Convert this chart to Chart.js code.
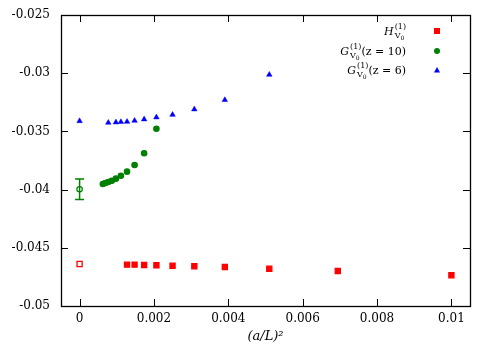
<!DOCTYPE html>
<html>
<head>
<meta charset="utf-8">
<script src="https://cdn.jsdelivr.net/npm/chart.js@4/dist/chart.umd.min.js"></script>
<style>
  body { margin: 0; background: #fff; }
  canvas { display: block; }
</style>
</head>
<body>
<canvas id="grafico" width="492" height="348"></canvas>
<script>
// datos
const xH = [0, 0.001276, 0.001479, 0.001736, 0.002066, 0.0025, 0.003086, 0.003906, 0.005102, 0.006944, 0.01];
const yH = [-0.04639, -0.04645, -0.04645, -0.04648, -0.0465, -0.04654, -0.04659, -0.04665, -0.0468, -0.04699, -0.04736];

const xG10 = [0, 0.000625, 0.000693, 0.000772, 0.000865, 0.000977, 0.001111, 0.001276, 0.001479, 0.001736, 0.002066];
const yG10 = [-0.03997, -0.03952, -0.03943, -0.03935, -0.03924, -0.03906, -0.03881, -0.03846, -0.03789, -0.03688, -0.03477];
const errG10 = 0.00089; // barra de error del punto extrapolado

const xG6 = [0, 0.000772, 0.000977, 0.001111, 0.001276, 0.001479, 0.001736, 0.002066, 0.0025, 0.003086, 0.003906, 0.005102];
const yG6 = [-0.03411, -0.03425, -0.03422, -0.03419, -0.03417, -0.03408, -0.03396, -0.03379, -0.03357, -0.0331, -0.0323, -0.03013];

const xTicks = [0, 0.002, 0.004, 0.006, 0.008, 0.01];
const yTicks = [-0.05, -0.045, -0.04, -0.035, -0.03, -0.025];

const FUENTE = '"DejaVu Serif", serif';

function puntos(xs, ys) {
    return xs.map((x, i) => ({ x: x, y: ys[i] }));
}

// el primer punto (a/L)^2 = 0 va hueco en H y G10
function rellenos(n, color) {
    const arr = new Array(n).fill(color);
    arr[0] = '#ffffff';
    return arr;
}

// texto con super/subindices, alineado a la derecha
function dibujarEtiqueta(ctx, letra, resto, xDer, base) {
    const fMain = '11px ' + FUENTE;
    const fMainIt = 'italic 11px ' + FUENTE;
    const fSup = '8px ' + FUENTE;
    const fSub0 = '6px ' + FUENTE;

    ctx.font = fMainIt; const wL = ctx.measureText(letra).width;
    ctx.font = fSup; const wSup = ctx.measureText('(1)').width; const wV = ctx.measureText('V').width;
    ctx.font = fSub0; const w0 = ctx.measureText('0').width;
    ctx.font = fMain; const wR = ctx.measureText(resto).width;
    const wScript = Math.max(wSup, wV + w0);
    let x = xDer - (wL + 1 + wScript + wR);

    ctx.fillStyle = '#000';
    ctx.textAlign = 'left';
    ctx.textBaseline = 'alphabetic';
    ctx.font = fMainIt; ctx.fillText(letra, x, base);
    x += wL + 1;
    ctx.font = fSup; ctx.fillText('(1)', x, base - 6);
    ctx.fillText('V', x, base + 3);
    ctx.font = fSub0; ctx.fillText('0', x + wV, base + 5);
    x += wScript;
    if (resto) { ctx.font = fMain; ctx.fillText(resto, x, base); }
}

const marcoPlugin = {
    id: 'marco',
    afterDatasetsDraw(chart) {
        const { ctx, chartArea: a, scales: { x, y } } = chart;
        ctx.save();

        // barra de error
        const px = x.getPixelForValue(xG10[0]);
        const pTop = y.getPixelForValue(yG10[0] + errG10);
        const pBot = y.getPixelForValue(yG10[0] - errG10);
        ctx.strokeStyle = '#008000';
        ctx.lineWidth = 1.5;
        ctx.beginPath();
        ctx.moveTo(px, pTop); ctx.lineTo(px, pBot);
        ctx.moveTo(px - 4.5, pTop); ctx.lineTo(px + 4.5, pTop);
        ctx.moveTo(px - 4.5, pBot); ctx.lineTo(px + 4.5, pBot);
        ctx.stroke();

        // marco y marcas hacia dentro
        ctx.strokeStyle = '#000';
        ctx.lineWidth = 1;
        ctx.beginPath();
        xTicks.forEach(v => {
            const p = Math.round(x.getPixelForValue(v)) + 0.5;
            ctx.moveTo(p, a.bottom); ctx.lineTo(p, a.bottom - 7);
            ctx.moveTo(p, a.top); ctx.lineTo(p, a.top + 7);
        });
        yTicks.forEach(v => {
            const p = Math.round(y.getPixelForValue(v)) + 0.5;
            ctx.moveTo(a.left, p); ctx.lineTo(a.left + 7, p);
            ctx.moveTo(a.right, p); ctx.lineTo(a.right - 7, p);
        });
        ctx.stroke();
        ctx.lineWidth = 1.3;
        ctx.strokeRect(Math.round(a.left) + 0.5, Math.round(a.top) + 0.5,
            Math.round(a.right - a.left), Math.round(a.bottom - a.top));

        // leyenda
        dibujarEtiqueta(ctx, 'H', '', 406, 35);
        dibujarEtiqueta(ctx, 'G', '(z = 10)', 406, 55);
        dibujarEtiqueta(ctx, 'G', '(z = 6)', 406, 74);

        ctx.fillStyle = '#ff0000';
        ctx.fillRect(434, 28, 6, 6);
        ctx.fillStyle = '#008000';
        ctx.beginPath(); ctx.arc(437, 51, 3, 0, Math.PI * 2); ctx.fill();
        ctx.fillStyle = '#0000ff';
        ctx.beginPath();
        ctx.moveTo(437, 67); ctx.lineTo(440, 72.5); ctx.lineTo(434, 72.5);
        ctx.closePath(); ctx.fill();

        ctx.restore();
    }
};

new Chart(document.getElementById('grafico').getContext('2d'), {
    type: 'scatter',
    data: {
        datasets: [{
            label: 'H',
            data: puntos(xH, yH),
            pointStyle: 'rect',
            pointRadius: 3.6,
            backgroundColor: rellenos(xH.length, '#ff0000'),
            borderColor: '#ff0000',
            borderWidth: 1.3
        }, {
            label: 'G z=10',
            data: puntos(xG10, yG10),
            pointStyle: 'circle',
            pointRadius: 2.7,
            backgroundColor: rellenos(xG10.length, '#008000'),
            borderColor: '#008000',
            borderWidth: 1.2
        }, {
            label: 'G z=6',
            data: puntos(xG6, yG6),
            pointStyle: 'triangle',
            pointRadius: 3.2,
            backgroundColor: '#0000ff',
            borderColor: '#0000ff',
            borderWidth: 0.5
        }]
    },
    options: {
        responsive: false,
        animation: false,
        devicePixelRatio: 1,
        layout: { padding: { top: 15, right: 22, left: 0, bottom: 0 } },
        plugins: {
            legend: { display: false },
            tooltip: { enabled: false }
        },
        scales: {
            x: {
                type: 'linear',
                min: -0.0005,
                max: 0.0105,
                afterBuildTicks: s => { s.ticks = xTicks.map(v => ({ value: v })); },
                afterFit: s => { s.height = 42; s.paddingLeft = 0; s.paddingRight = 0; },
                grid: { display: false, drawTicks: false },
                border: { display: false },
                ticks: {
                    color: '#000',
                    padding: 6,
                    font: { family: FUENTE, size: 12 },
                    callback: v => String(Number(v.toFixed(4)))
                },
                title: {
                    display: true,
                    text: '(a/L)²',
                    color: '#000',
                    font: { family: FUENTE, size: 13, style: 'italic' },
                    padding: { top: 0, bottom: 4 }
                }
            },
            y: {
                type: 'linear',
                min: -0.05,
                max: -0.025,
                afterBuildTicks: s => { s.ticks = yTicks.map(v => ({ value: v })); },
                afterFit: s => { s.width = 61; s.paddingTop = 0; s.paddingBottom = 0; },
                grid: { display: false, drawTicks: false },
                border: { display: false },
                ticks: {
                    color: '#000',
                    padding: 11,
                    font: { family: FUENTE, size: 12 },
                    callback: v => String(Number(v.toFixed(4)))
                }
            }
        }
    },
    plugins: [marcoPlugin]
});
</script>
</body>
</html>
